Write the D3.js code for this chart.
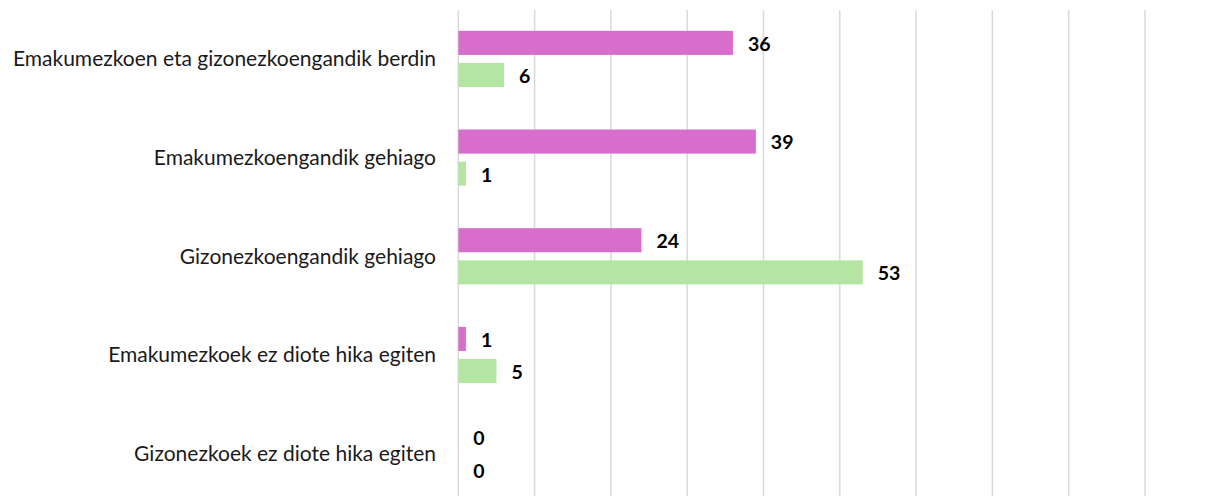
<!DOCTYPE html>
<html>
<head>
<meta charset="utf-8">
<script src="https://cdn.jsdelivr.net/npm/d3@7"></script>
<style>
html,body{margin:0;padding:0;background:#fff;}
svg{display:block;}
</style>
</head>
<body>
<svg id="chart" width="1216" height="496"></svg>
<script>
const categories = [
  "Emakumezkoen eta gizonezkoengandik berdin",
  "Emakumezkoengandik gehiago",
  "Gizonezkoengandik gehiago",
  "Emakumezkoek ez diote hika egiten",
  "Gizonezkoek ez diote hika egiten"
];
const seriesNames = ["A", "B"];
const seriesA = [36, 39, 24, 1, 0];
const seriesB = [6, 1, 53, 5, 0];
const gridTicks = [0, 10, 20, 30, 40, 50, 60, 70, 80, 90, 100];
const colors = ["#D86ECC", "#B5E5A2"];

const svg = d3.select("#chart");
const x = d3.scaleLinear().domain([0, 100]).range([458.3, 1221.3]);
const y = d3.scaleBand().domain(categories).range([9.6, 503]).paddingInner(0.43).paddingOuter(0.215);
const ySub = d3.scaleBand().domain(seriesNames).range([0, y.bandwidth()]).paddingInner(0.25);

// gridlines
svg.append("g").selectAll("line").data(gridTicks).join("line")
  .attr("x1", d => x(d)).attr("x2", d => x(d))
  .attr("y1", 10).attr("y2", 496)
  .attr("stroke", "#d9d9d9").attr("stroke-width", 1.5);

const data = categories.map((c, i) => ({cat: c, vals: [seriesA[i], seriesB[i]]}));

const groups = svg.append("g").selectAll("g").data(data).join("g")
  .attr("transform", d => `translate(0,${y(d.cat)})`);

groups.selectAll("rect").data(d => d.vals.map((v, j) => ({v, s: seriesNames[j], j}))).join("rect")
  .attr("x", x(0))
  .attr("y", d => ySub(d.s))
  .attr("width", d => x(d.v) - x(0))
  .attr("height", ySub.bandwidth())
  .attr("fill", d => colors[d.j]);

groups.selectAll("text").data(d => d.vals.map((v, j) => ({v, s: seriesNames[j], j}))).join("text")
  .attr("x", d => x(d.v) + 15)
  .attr("y", d => ySub(d.s) + ySub.bandwidth() / 2 + 1)
  .attr("dy", "0.35em")
  .attr("font-family", "Lato, 'Open Sans', sans-serif")
  .attr("font-weight", "bold")
  .attr("font-size", 19.5)
  .attr("fill", "#000")
  .text(d => d.v);

// category labels
svg.append("g").selectAll("text").data(categories).join("text")
  .attr("x", 436)
  .attr("y", d => y(d) + y.bandwidth() / 2)
  .attr("dy", "0.35em")
  .attr("text-anchor", "end")
  .attr("font-family", "Lato, 'Open Sans', sans-serif")
  .attr("font-size", 21)
  .attr("fill", "#1a1a1a")
  .text(d => d);
</script>
</body>
</html>
